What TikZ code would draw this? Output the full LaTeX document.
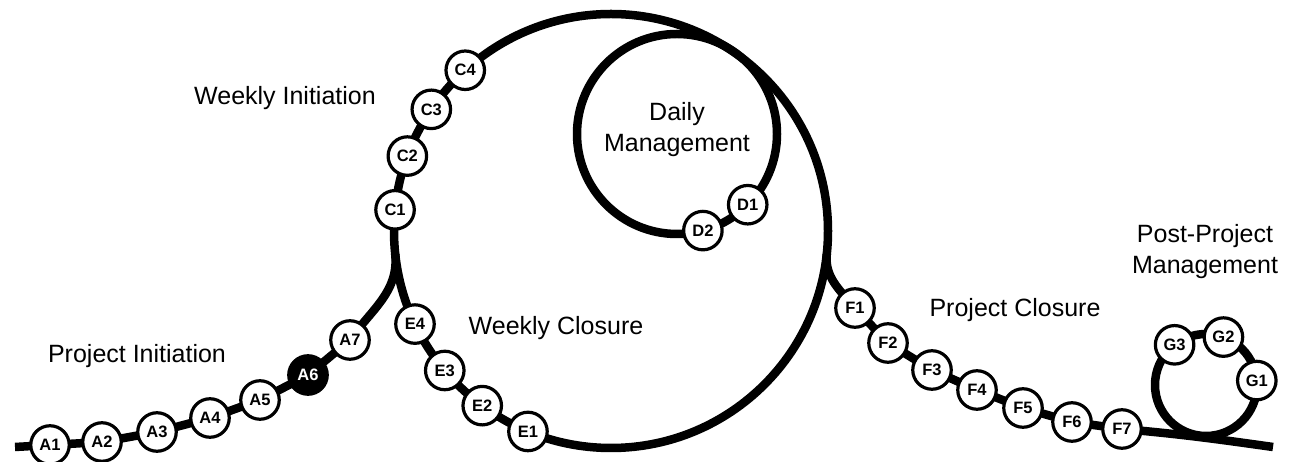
\documentclass[tikz,border=0pt]{standalone}
\usepackage{fontspec}
\setmainfont{Liberation Sans}
\usepackage{tikz}
\usetikzlibrary{positioning,
				backgrounds,
				calc}

\begin{document}
\begin{tikzpicture}[x=1pt, y=1pt, line cap=round,
		track/.style={line width=8.5pt},
		stage/.style={circle, draw, line width=3.2pt, fill=white, minimum size=38.5pt, inner sep=0pt,
			font=\bfseries\fontsize{16.5}{16.5}\selectfont},
		phase/.style={anchor=base, align=center, font=\fontsize{25}{31}\selectfont}]
	\useasboundingbox (0,0) rectangle (1296,462);
	\coordinate (week) at (611,231);
	\coordinate (day) at (677,328);
	\coordinate (post) at (1206,77);
	\coordinate (start) at (15,15);
	\coordinate (finish) at (1273,15);
	% stages
	\foreach \i/\p in {1/{50,17}, 2/{102,20}, 3/{157,30}, 4/{210,44}, 5/{260,62}, 7/{350,122}}
		\node[stage] (A\i) at (\p) {A\i};
	\node[stage, fill=black, text=white] (A6) at (308,87) {A6};
	\foreach \i/\a in {1/174.4, 2/159.8, 3/145.9, 4/132.2}
		\node[stage] (C\i) at ([shift={(\a:217pt)}]week) {C\i};
	\foreach \i/\a in {1/-45, 2/-75}
		\node[stage] (D\i) at ([shift={(\a:100pt)}]day) {D\i};
	\foreach \i/\a in {1/247.5, 2/233.6, 3/220, 4/205.4}
		\node[stage] (E\i) at ([shift={(\a:217pt)}]week) {E\i};
	\foreach \i/\p in {1/{855,154}, 2/{888,119}, 3/{932,92}, 4/{977,72}, 5/{1023,54}, 6/{1072,40}, 7/{1122,33}}
		\node[stage] (F\i) at (\p) {F\i};
	\foreach \i/\a in {1/5, 2/70, 3/128}
		\node[stage] (G\i) at ([shift={(\a:51pt)}]post) {G\i};
	% loops and tracks
	\begin{scope}[on background layer]
		\draw[track] (week) circle (217pt);
		\draw[track] (day) circle (100pt);
		\draw[track] (post) circle (51pt);
		\draw[track] (start) -- (A1.center) -- (A2.center) -- (A3.center) -- (A4.center)
			-- (A5.center) -- (A6.center) -- (A7.center)
			to[out=55, in=-84] ([shift={(186:217pt)}]week);
		\draw[track] ([shift={(-6:217pt)}]week) to[out=-96, in=130] (F1.center)
			-- (F2.center) -- (F3.center) -- (F4.center) -- (F5.center)
			-- (F6.center) -- (F7.center) to[out=-5, in=172] (finish);
	\end{scope}
	% phase names
	\node[phase] (pinit) at (137,99) {Project Initiation};
	\node[phase] (winit) at (285,357) {Weekly Initiation};
	\node[phase] (daily) at (677,310) {Daily\\Management};
	\node[phase] (wclose) at (556,127) {Weekly Closure};
	\node[phase] (pclose) at (1015,145) {Project Closure};
	\node[phase] (ppost) at (1205,188) {Post-Project\\Management};
\end{tikzpicture}
\end{document}
